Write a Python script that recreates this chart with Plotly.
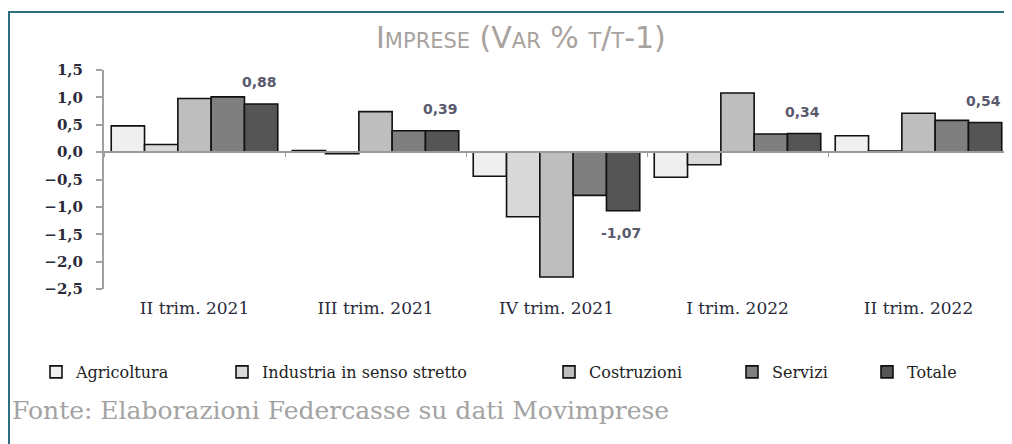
import plotly.graph_objects as go

categories = ["II trim. 2021", "III trim. 2021", "IV trim. 2021", "I trim. 2022", "II trim. 2022"]
series_names = ["Agricoltura", "Industria in senso stretto", "Costruzioni", "Servizi", "Totale"]
agricoltura = [0.48, 0.03, -0.44, -0.46, 0.30]
industria = [0.14, -0.03, -1.18, -0.23, 0.02]
costruzioni = [0.98, 0.74, -2.28, 1.08, 0.71]
servizi = [1.01, 0.39, -0.79, 0.33, 0.58]
totale = [0.88, 0.39, -1.07, 0.34, 0.54]
colors = ["#efefef", "#d9d9d9", "#bebebe", "#7f7f7f", "#555555"]
y_ticks = [1.5, 1.0, 0.5, 0.0, -0.5, -1.0, -1.5, -2.0, -2.5]

OFF = 8  # page body margin
W, H = 1012 - OFF, 444 - OFF
L = 104 - OFF
T = 70 - OFF
B = H - (289 - OFF)
R = W - (1009 - OFF)
PW, PH = W - L - R, H - T - B
BARGAP = 0.08

def px_x(p):
    # page pixel -> paper fraction
    return (p - OFF - L) / PW

def px_y(p):
    return (H - B - (p - OFF)) / PH

fig = go.Figure()
all_series = [agricoltura, industria, costruzioni, servizi, totale]
legend_ids = ["legend", "legend2", "legend3", "legend4", "legend5"]
for name, vals, col, lg in zip(series_names, all_series, colors, legend_ids):
    fig.add_trace(go.Bar(
        x=categories, y=vals, name=name, legend=lg,
        marker=dict(color=col, line=dict(color="#111111", width=1.6)),
        hoverinfo="x+y+name",
    ))

# invisible trace to carry the zero-line axis with boundary ticks
fig.add_trace(go.Scatter(x=categories, y=[None] * len(categories), xaxis="x2",
                         mode="lines", showlegend=False, hoverinfo="skip"))

# data labels for Totale
bw = PW / len(categories) * (1 - BARGAP) / len(series_names)
annotations = []
for c, v in zip(categories, totale):
    annotations.append(dict(
        x=c, y=v, xref="x", yref="y", xshift=2 * bw - 2,
        yshift=12 if v >= 0 else -12,
        yanchor="bottom" if v >= 0 else "top",
        text=f"{v:.2f}".replace(".", ","), showarrow=False,
        font=dict(family="DejaVu Sans", size=14, color="#5a5a6e", weight="bold"),
    ))

annotations.append(dict(
    text="Imprese (Var % t/t-1)", xref="paper", yref="paper",
    x=px_x(521), y=px_y(37), xanchor="center", yanchor="middle", showarrow=False,
    font=dict(family="DejaVu Sans", size=30, color="#a8a29e", variant="small-caps"),
))
annotations.append(dict(
    text="Fonte: Elaborazioni Federcasse su dati Movimprese", xref="paper", yref="paper",
    x=px_x(10), y=px_y(410), xanchor="left", yanchor="middle", showarrow=False,
    font=dict(family="DejaVu Serif", size=25, color="#a3a3a3"),
))

text_starts = [78, 264, 591, 774, 909]
legend_layouts = {}
for lg, xs in zip(legend_ids, text_starts):
    legend_layouts[lg] = dict(
        x=px_x(xs - 42), y=px_y(372), xanchor="left", yanchor="middle",
        orientation="h", bgcolor="rgba(0,0,0,0)", itemclick=False, itemdoubleclick=False,
        font=dict(family="DejaVu Serif", size=16, color="#222222"),
    )

shapes = [
    dict(type="line", xref="paper", yref="paper", x0=px_x(8), x1=px_x(1020), y0=px_y(12), y1=px_y(12),
         line=dict(color="#2b6f80", width=2)),
    dict(type="line", xref="paper", yref="paper", x0=px_x(9), x1=px_x(9), y0=px_y(12), y1=px_y(450),
         line=dict(color="#2b6f80", width=2)),
]

fig.update_layout(
    width=W, height=H,
    margin=dict(l=L, r=R, t=T, b=B),
    paper_bgcolor="white", plot_bgcolor="white",
    barmode="group", bargap=BARGAP, bargroupgap=0,
    separators=",.",
    showlegend=True,
    annotations=annotations,
    shapes=shapes,
    xaxis=dict(type="category", categoryarray=categories, range=[-0.5, 4.5],
               showline=False, ticks="", showgrid=False, zeroline=False,
               ticklabelstandoff=7,
               tickfont=dict(family="DejaVu Serif", size=17, color="#2a2a3a")),
    xaxis2=dict(type="category", categoryarray=categories, range=[-0.5, 4.5],
                overlaying="x", anchor="free", position=2.5 / 4,
                showline=True, linecolor="#9a9a9a", linewidth=2,
                ticks="outside", tickson="boundaries", ticklen=4, tickcolor="#9a9a9a", tickwidth=1,
                showticklabels=False, showgrid=False, zeroline=False),
    yaxis=dict(range=[-2.5, 1.5], tickvals=y_ticks, tickformat=".1f",
               showline=True, linecolor="#a0a0a0", linewidth=2,
               ticks="outside", ticklen=6, tickcolor="#a0a0a0", tickwidth=2,
               showgrid=False, zeroline=False, ticklabelstandoff=10,
               tickfont=dict(family="DejaVu Serif", size=15, color="#2a2a3a", weight="bold")),
    **legend_layouts,
)

fig.write_html("out.html")
